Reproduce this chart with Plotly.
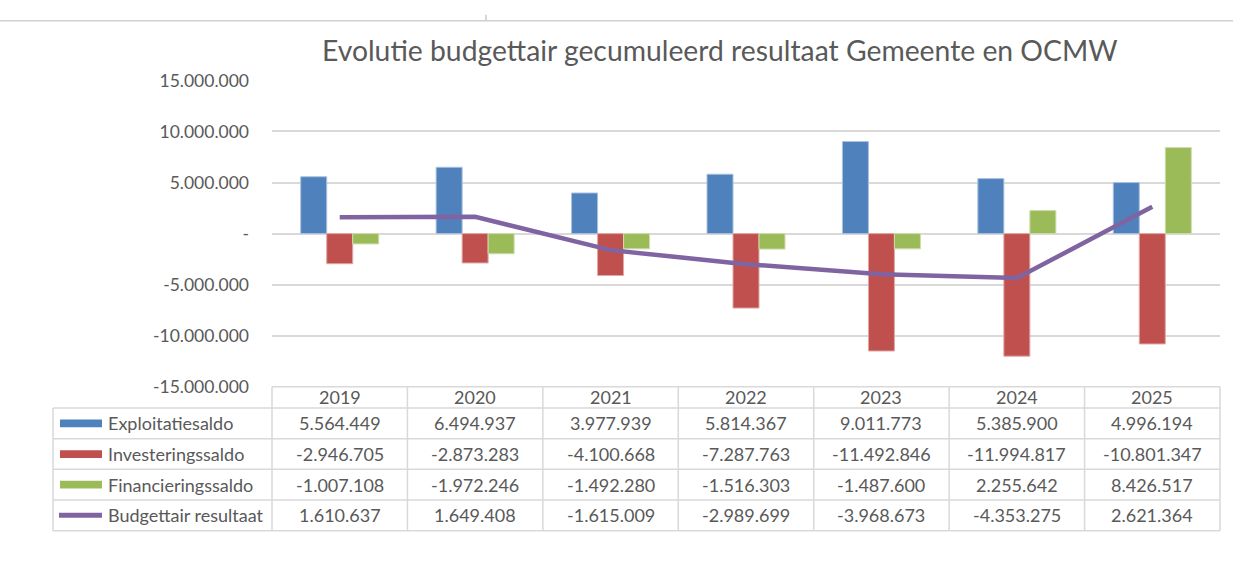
import plotly.graph_objects as go

# ---- data ----
years = ["2019", "2020", "2021", "2022", "2023", "2024", "2025"]
exploitatiesaldo = [5564449, 6494937, 3977939, 5814367, 9011773, 5385900, 4996194]
investeringssaldo = [-2946705, -2873283, -4100668, -7287763, -11492846, -11994817, -10801347]
financieringssaldo = [-1007108, -1972246, -1492280, -1516303, -1487600, 2255642, 8426517]
budgettair_resultaat = [1610637, 1649408, -1615009, -2989699, -3968673, -4353275, 2621364]
series_names = ["Exploitatiesaldo", "Investeringssaldo", "Financieringssaldo", "Budgettair resultaat"]
y_ticks = [15000000, 10000000, 5000000, 0, -5000000, -10000000, -15000000]
title_text = "Evolutie budgettair gecumuleerd resultaat Gemeente en OCMW"

# ---- style ----
W, H = 1234, 579
FONT = "Lato"
GREY = "#595959"
GRID = "#D9D9D9"
colors = ["#4F81BD", "#C0504D", "#9BBB59", "#8064A2"]
outline = ["#A9C0DE", "#E0A8A6", "#CDDDAC"]


def fmt(v):
    if v == 0:
        return "-"
    return f"{v:,}".replace(",", ".")


# layout in pixels
PX_L, PX_R = 272, 1220
PX_T, PX_B = 72, 390
TAB_LEFT = 53
HEADER_B = 412
ROW_H = 31.8


def px(x):
    return x / W


def py(y):
    return 1 - y / H


fig = go.Figure()
for name, vals, c, oc in zip(series_names[:3],
                             [exploitatiesaldo, investeringssaldo, financieringssaldo],
                             colors[:3], outline):
    fig.add_trace(go.Bar(x=years, y=vals, name=name, marker_color=c,
                         marker_line_color=oc, marker_line_width=1))
fig.add_trace(go.Scatter(x=years, y=budgettair_resultaat, name=series_names[3],
                         mode="lines", line=dict(color=colors[3], width=4.5)))

shapes = []
annotations = []

# top sheet border line & tick
shapes.append(dict(type="line", xref="paper", yref="paper", x0=0, x1=px(1233),
                   y0=py(10), y1=py(10), line=dict(color="#D0D0D0", width=1.5)))
shapes.append(dict(type="line", xref="paper", yref="paper", x0=px(486), x1=px(486),
                   y0=py(4), y1=py(10), line=dict(color="#C8C8C8", width=1.5)))

# table lines
n = len(years)
colw = (PX_R - PX_L) / n
row_lines = [HEADER_B + i * ROW_H for i in range(5)]
shapes.append(dict(type="line", xref="paper", yref="paper", x0=px(PX_L), x1=px(PX_R),
                   y0=py(PX_B), y1=py(PX_B), line=dict(color=GRID, width=1.5)))
for yl in row_lines:
    shapes.append(dict(type="line", xref="paper", yref="paper", x0=px(TAB_LEFT), x1=px(PX_R),
                       y0=py(yl), y1=py(yl), line=dict(color=GRID, width=1.5)))
for k in range(n + 1):
    xx = PX_L + k * colw
    shapes.append(dict(type="line", xref="paper", yref="paper", x0=px(xx), x1=px(xx),
                       y0=py(PX_B), y1=py(row_lines[-1]), line=dict(color=GRID, width=1.5)))
shapes.append(dict(type="line", xref="paper", yref="paper", x0=px(TAB_LEFT), x1=px(TAB_LEFT),
                   y0=py(HEADER_B), y1=py(row_lines[-1]), line=dict(color=GRID, width=1.5)))

# header years (x = category index on the category axis)
for i, yr in enumerate(years):
    annotations.append(dict(x=i, xref="x", y=py((PX_B + HEADER_B) / 2), yref="paper",
                            text=yr, showarrow=False, font=dict(family=FONT, size=18, color=GREY),
                            xanchor="center", yanchor="middle"))

all_series = [exploitatiesaldo, investeringssaldo, financieringssaldo, budgettair_resultaat]
for r, (name, vals) in enumerate(zip(series_names, all_series)):
    yc = row_lines[r] + ROW_H / 2
    # legend key
    if r < 3:
        shapes.append(dict(type="rect", xref="paper", yref="paper", x0=px(60), x1=px(102),
                           y0=py(yc - 4), y1=py(yc + 4), fillcolor=colors[r],
                           line=dict(width=0)))
    else:
        shapes.append(dict(type="line", xref="paper", yref="paper", x0=px(59), x1=px(102),
                           y0=py(yc), y1=py(yc), line=dict(color=colors[r], width=5)))
    annotations.append(dict(x=px(106), xref="paper", y=py(yc), yref="paper", text=name,
                            showarrow=False, xanchor="left", yanchor="middle",
                            font=dict(family=FONT, size=18, color=GREY)))
    for i, v in enumerate(vals):
        annotations.append(dict(x=i, xref="x", y=py(yc), yref="paper", text=fmt(v),
                                showarrow=False, xanchor="center", yanchor="middle",
                                font=dict(family=FONT, size=18, color=GREY)))

# title
annotations.append(dict(x=px(720), xref="paper", y=py(40), yref="paper", text=title_text,
                        showarrow=False, xanchor="center", yanchor="middle",
                        font=dict(family=FONT, size=28.3, color=GREY)))

fig.update_layout(
    width=W, height=H, autosize=False,
    margin=dict(l=0, r=0, t=0, b=0),
    paper_bgcolor="white", plot_bgcolor="white",
    showlegend=False,
    barmode="group", bargap=0.424, bargroupgap=0,
    xaxis=dict(type="category", range=[-0.5, n - 0.5], domain=[px(PX_L), px(PX_R)],
               showticklabels=False, showgrid=False, zeroline=False, showline=False,
               fixedrange=True),
    yaxis=dict(domain=[py(PX_B), py(PX_T)], range=[-15000000, 15000000],
               tickvals=y_ticks, ticktext=[fmt(v) for v in y_ticks],
               showgrid=True, gridcolor=GRID, gridwidth=1.5, zeroline=False,
               ticklabelstandoff=22, tickfont=dict(family=FONT, size=17.5, color=GREY),
               fixedrange=True),
    shapes=shapes, annotations=annotations,
)

fig.write_html("out.html", config={"displayModeBar": False},
               post_script="document.body.style.margin='0';document.body.style.overflow='hidden';")
